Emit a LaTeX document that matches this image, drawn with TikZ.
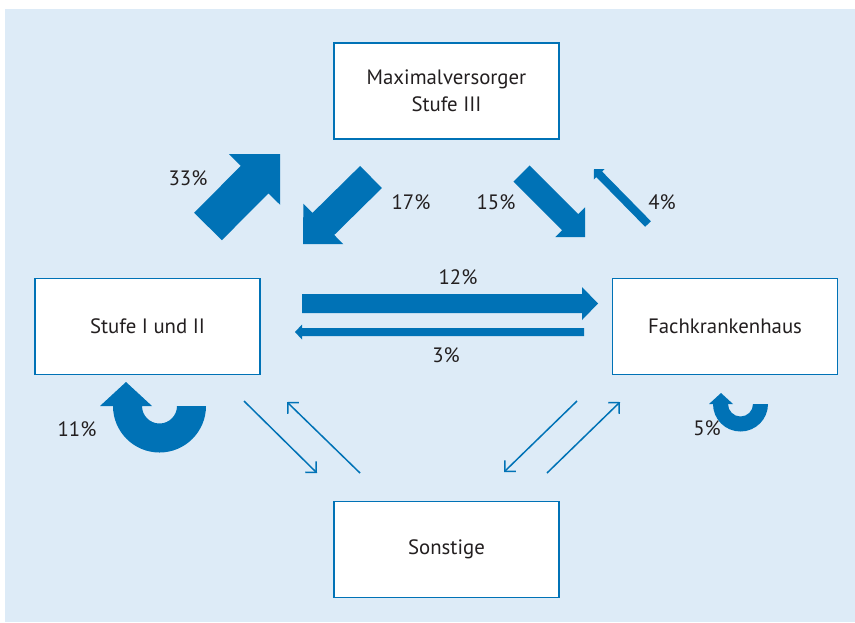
\documentclass[tikz,border=0pt]{standalone}
\usepackage{fontspec}
\setmainfont{PT Sans}
\usetikzlibrary{calc,arrows.meta}
\definecolor{bgblue}{RGB}{221,235,247}
\definecolor{mainblue}{RGB}{0,114,182}
\definecolor{txt}{RGB}{35,31,32}
\newcommand{\blockarr}[6]{%
  \coordinate (#1-b) at ($(#3)!#6!(#2)$);
  \fill[mainblue] ($(#2)!#4!90:(#3)$) -- ($(#1-b)!#4!90:(#3)$) -- ($(#1-b)!#5!90:(#3)$) -- (#3)
    -- ($(#1-b)!#5!-90:(#3)$) -- ($(#1-b)!#4!-90:(#3)$) -- ($(#2)!#4!-90:(#3)$) -- cycle;}
\begin{document}
\begin{tikzpicture}[x=0.5pt,y=-0.5pt,
  box/.style={draw=mainblue,line width=0.75pt,fill=white,minimum width=112.5pt,minimum height=48pt,
    inner sep=0pt,align=center,text=txt,font=\fontsize{10.4}{13.5}\selectfont},
  lbl/.style={text=txt,inner sep=0pt,font=\fontsize{10.4}{13.5}\selectfont},
  thinarr/.style={draw=mainblue,line width=0.75pt,-{Straight Barb[angle=90:5.5pt]}}]
\useasboundingbox (0,0) rectangle (855,622);
\fill[bgblue] (5,9) rectangle (855,622);
% boxes
\node[box] (max) at (446.5,91) {Maximalversorger\\Stufe III};
\node[box] (stufe) at (147.5,326.5) {Stufe I und II};
\node[box] (fach) at (725,326.5) {Fachkrankenhaus};
\node[box] (sonst) at (446.5,549.5) {Sonstige};
% block arrows
\coordinate (a33t) at (208,226.5); \coordinate (a33p) at (280,154);
\blockarr{a33}{a33t}{a33p}{9.75pt}{18pt}{18pt}
\coordinate (a17t) at (371,177); \coordinate (a17p) at (303,244);
\blockarr{a17}{a17t}{a17p}{7.75pt}{14.25pt}{14.3pt}
\coordinate (a15t) at (521.5,173.5); \coordinate (a15p) at (585,237);
\blockarr{a15}{a15t}{a15p}{5.7pt}{10.5pt}{10.5pt}
\coordinate (a4t) at (648,224); \coordinate (a4p) at (594,169);
\blockarr{a4}{a4t}{a4p}{2pt}{3.75pt}{3.7pt}
\coordinate (a12t) at (302,303.5); \coordinate (a12p) at (598,303.5);
\blockarr{a12}{a12t}{a12p}{4.75pt}{8.25pt}{8pt}
\coordinate (a3t) at (584,332); \coordinate (a3p) at (295,332);
\blockarr{a3}{a3t}{a3p}{2pt}{3.75pt}{3.5pt}
% curved arrows
\fill[mainblue] (206,406) arc[start angle=0,end angle=180,radius=46.5] -- (100,406) -- (126,382) -- (152,406) -- (142,406) arc[start angle=180,end angle=0,radius=17.5] -- cycle;
\fill[mainblue] (768,404) arc[start angle=0,end angle=180,radius=27.5] -- (709,404) -- (721,393) -- (733,404) -- (728,404) arc[start angle=180,end angle=0,radius=12.5] -- cycle;
% thin arrows
\coordinate (t1s) at (244,401); \coordinate (t1e) at (317,473);
\coordinate (t2s) at (360,473); \coordinate (t2e) at (287,402);
\coordinate (t3s) at (577,401); \coordinate (t3e) at (504,472);
\coordinate (t4s) at (547,473); \coordinate (t4e) at (620,402);
\draw[thinarr] (t1s) -- (t1e);
\draw[thinarr] (t2s) -- (t2e);
\draw[thinarr] (t3s) -- (t3e);
\draw[thinarr] (t4s) -- (t4e);
% labels
\node[lbl] (l33) at (188,178) {33\%};
\node[lbl] (l17) at (411,202) {17\%};
\node[lbl] (l15) at (496,202) {15\%};
\node[lbl] (l4) at (662,202) {4\%};
\node[lbl] (l12) at (458,277) {12\%};
\node[lbl] (l3) at (446,355) {3\%};
\node[lbl] (l11) at (77,429) {11\%};
\node[lbl] (l5) at (707,428) {5\%};
\end{tikzpicture}
\end{document}
